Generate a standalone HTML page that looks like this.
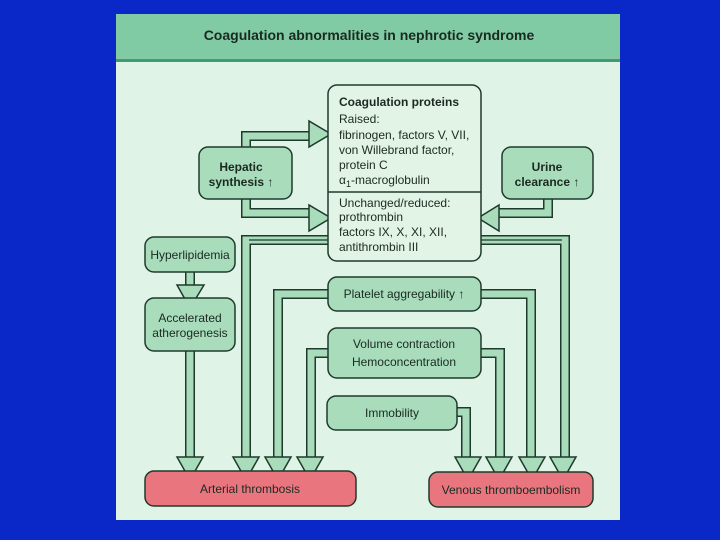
<!DOCTYPE html>
<html><head><meta charset="utf-8"><style>
html,body{margin:0;padding:0;background:#0a28c8;}
svg{display:block;}
text{font-family:"Liberation Sans",sans-serif;fill:#1a2a22;}
</style></head><body>
<svg width="720" height="540" viewBox="0 0 720 540" xmlns="http://www.w3.org/2000/svg">
<rect x="0" y="0" width="720" height="540" fill="#0a28c8"/>
<rect x="116" y="14" width="504" height="506" fill="#e0f3e7"/>
<rect x="116" y="14" width="504" height="45" fill="#80caa4"/>
<rect x="116" y="59" width="504" height="3" fill="#3f9c72"/>
<text x="369" y="40" text-anchor="middle" font-size="14" font-weight="bold">Coagulation abnormalities in nephrotic syndrome</text>

<g fill="none" stroke-linejoin="miter">
<!-- bands: outer dark, inner light -->
<g stroke="#1e3a2c" stroke-width="10">
<path d="M340 240 H246 V460"/>
<path d="M470 240 H565 V460"/>
<path d="M246 150 V136 H312"/>
<path d="M246 196 V213 H312"/>
<path d="M548 196 V213 H496"/>
<path d="M190 268 V288"/>
<path d="M190 348 V460"/>
<path d="M335 294 H278 V460"/>
<path d="M475 294 H531 V460"/>
<path d="M335 353 H311 V460"/>
<path d="M475 353 H500 V460"/>
<path d="M450 412 H466 V460"/>
</g>
<g stroke="#a9dcbb" stroke-width="7">
<path d="M340 240 H246 V460"/>
<path d="M470 240 H565 V460"/>
<path d="M246 150 V136 H312"/>
<path d="M246 196 V213 H312"/>
<path d="M548 196 V213 H496"/>
<path d="M190 268 V288"/>
<path d="M190 348 V460"/>
<path d="M335 294 H278 V460"/>
<path d="M475 294 H531 V460"/>
<path d="M335 353 H311 V460"/>
<path d="M475 353 H500 V460"/>
<path d="M450 412 H466 V460"/>
</g>
</g>
<path d="M249 240 H562" stroke="#1e3a2c" stroke-width="1.3" fill="none"/>

<g fill="#a9dcbb" stroke="#1e3a2c" stroke-width="1.5" stroke-linejoin="miter">
<!-- down arrowheads -->
<polygon points="177,457 203,457 190,480"/>
<polygon points="233,457 259,457 246,480"/>
<polygon points="265,457 291,457 278,480"/>
<polygon points="297,457 323,457 310,480"/>
<polygon points="455,457 481,457 468,480"/>
<polygon points="486,457 512,457 499,480"/>
<polygon points="519,457 545,457 532,480"/>
<polygon points="550,457 576,457 563,480"/>
<polygon points="177,285 204,285 190,308"/>
<!-- right arrows -->
<polygon points="309,121 309,147 331,134"/>
<polygon points="309,205 309,231 331,218"/>
<polygon points="499,205 499,231 478,218"/>
</g>

<g stroke="#1e3a2c" stroke-width="1.5">
<rect x="328" y="85" width="153" height="176" rx="9" fill="#e2f4e6"/>
<line x1="328" y1="192" x2="481" y2="192"/>
<rect x="199" y="147" width="93" height="52" rx="9" fill="#a9dcbb"/>
<rect x="502" y="147" width="91" height="52" rx="9" fill="#a9dcbb"/>
<rect x="145" y="237" width="90" height="35" rx="9" fill="#a9dcbb"/>
<rect x="145" y="298" width="90" height="53" rx="9" fill="#a9dcbb"/>
<rect x="328" y="277" width="153" height="34" rx="9" fill="#a9dcbb"/>
<rect x="328" y="328" width="153" height="50" rx="9" fill="#a9dcbb"/>
<rect x="327" y="396" width="130" height="34" rx="9" fill="#a9dcbb"/>
<rect x="145" y="471" width="211" height="35" rx="9" fill="#e9767f"/>
<rect x="429" y="472" width="164" height="35" rx="9" fill="#e9767f"/>
</g>
<path d="M328 209 H312 M328 218 H312" stroke="none"/>

<g font-size="12">
<text x="339" y="106" font-weight="bold">Coagulation proteins</text>
<text x="339" y="123">Raised:</text>
<text x="339" y="139">fibrinogen, factors V, VII,</text>
<text x="339" y="154">von Willebrand factor,</text>
<text x="339" y="169">protein C</text>
<text x="339" y="184">α<tspan font-size="9" dy="3">1</tspan><tspan dy="-3">-macroglobulin</tspan></text>
<text x="339" y="207">Unchanged/reduced:</text>
<text x="339" y="221">prothrombin</text>
<text x="339" y="236">factors IX, X, XI, XII,</text>
<text x="339" y="251">antithrombin III</text>
<text x="241" y="171" text-anchor="middle" font-weight="bold">Hepatic</text>
<text x="241" y="186" text-anchor="middle" font-weight="bold">synthesis ↑</text>
<text x="547" y="171" text-anchor="middle" font-weight="bold">Urine</text>
<text x="547" y="186" text-anchor="middle" font-weight="bold">clearance ↑</text>
<text x="190" y="259" text-anchor="middle">Hyperlipidemia</text>
<text x="190" y="322" text-anchor="middle">Accelerated</text>
<text x="190" y="337" text-anchor="middle">atherogenesis</text>
<text x="404" y="298" text-anchor="middle">Platelet aggregability ↑</text>
<text x="404" y="348" text-anchor="middle">Volume contraction</text>
<text x="404" y="366" text-anchor="middle">Hemoconcentration</text>
<text x="392" y="417" text-anchor="middle">Immobility</text>
<text x="250" y="493" text-anchor="middle">Arterial thrombosis</text>
<text x="511" y="494" text-anchor="middle">Venous thromboembolism</text>
</g>
</svg>
</body></html>
